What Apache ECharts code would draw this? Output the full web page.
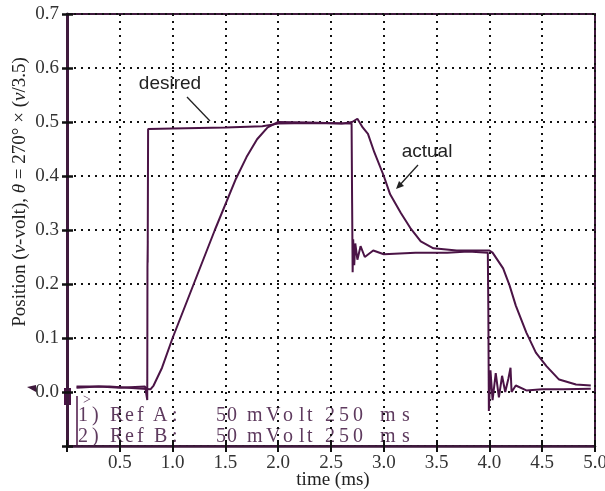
<!DOCTYPE html>
<html>
<head>
<meta charset="utf-8">
<script src="https://cdn.jsdelivr.net/npm/echarts@6/dist/echarts.min.js"></script>
<style>
  html, body { margin: 0; padding: 0; background: #fff; }
  #chart { width: 605px; height: 491px; }
</style>
</head>
<body>
<div id="chart"></div>
<script>
// time (ms) and position
const desiredTime = [0.09, 0.3, 0.5, 0.74, 0.755, 0.76, 0.762, 0.765, 0.764, 0.768, 1.0, 1.5, 1.85, 2.0, 2.3, 2.695,
  2.7, 2.705, 2.71, 2.72, 2.73, 2.75, 2.78, 2.82, 2.9, 3.0, 3.3, 3.6, 3.8, 3.985,
  3.99, 3.995, 4.01, 4.03, 4.06, 4.09, 4.12, 4.15, 4.18, 4.2, 4.21, 4.25, 4.35, 4.5, 4.7, 4.96];
const desiredPos = [0.008, 0.01, 0.008, 0.01, 0.01, -0.015, 0.23, 0.28, 0.24, 0.487, 0.488, 0.49, 0.492, 0.497, 0.498, 0.497,
  0.35, 0.222, 0.283, 0.235, 0.275, 0.245, 0.27, 0.25, 0.262, 0.255, 0.258, 0.258, 0.26, 0.258,
  0.15, -0.035, 0.04, -0.015, 0.035, -0.01, 0.03, 0.0, 0.025, 0.045, 0.0, 0.012, 0.003, 0.005, 0.005, 0.006];

const actualTime = [0.09, 0.4, 0.79, 0.82, 0.9, 1.0, 1.2, 1.4, 1.6, 1.7, 1.8, 1.9, 2.0, 2.3, 2.6, 2.7, 2.75, 2.8, 2.85,
  2.91, 3.0, 3.06, 3.16, 3.25, 3.35, 3.47, 3.69, 3.9, 4.0, 4.03, 4.13, 4.19, 4.25, 4.35, 4.44, 4.54, 4.66, 4.82, 4.96];
const actualPos = [0.01, 0.01, 0.005, 0.012, 0.045, 0.1, 0.2, 0.3, 0.395, 0.435, 0.468, 0.49, 0.5, 0.499, 0.497, 0.5, 0.506, 0.49, 0.478,
  0.444, 0.4, 0.366, 0.332, 0.304, 0.279, 0.266, 0.262, 0.262, 0.262, 0.258, 0.229, 0.198, 0.16, 0.11, 0.073, 0.048, 0.023, 0.014, 0.012];

// scope readout, one entry per glyph: [char, left x]
const refChars1 = [["1", 78], [")", 92], ["R", 110], ["e", 125], ["f", 137], ["A", 153], [":", 172],
  ["5", 216], ["0", 227], ["m", 247], ["V", 266], ["o", 283], ["l", 299], ["t", 307],
  ["2", 325], ["5", 339], ["0", 353], ["m", 380], ["s", 402]];
const refChars2 = [["2", 78], [")", 92], ["R", 110], ["e", 125], ["f", 137], ["B", 154], [":", 172],
  ["5", 216], ["0", 227], ["m", 247], ["V", 266], ["o", 283], ["l", 299], ["t", 307],
  ["2", 325], ["5", 339], ["0", 353], ["m", 380], ["s", 402]];

const zip = (xs, ys) => xs.map((x, i) => [x, ys[i]]);

const traceColor = "#4b1446";
const axisColor = "#3f1a3d";
const serif = "'Liberation Serif', 'Times New Roman', serif";
const sans = "'Liberation Sans', Arial, sans-serif";

const chart = echarts.init(document.getElementById("chart"));

const refTexts = [];
[[refChars1, 416], [refChars2, 437]].forEach(([chars, y]) => {
  chars.forEach(([c, x]) => refTexts.push({
    type: "text", x: x, y: y,
    style: { text: c, font: "20px " + serif, fill: "#5e3a5e", verticalAlign: "middle" },
  }));
});

chart.setOption({
  animation: false,
  backgroundColor: "#fff",
  grid: {
    left: 67, right: 10, top: 14, bottom: 45,
    outerBoundsMode: "none",
    show: true, borderColor: axisColor, borderWidth: 2, backgroundColor: "transparent",
  },
  xAxis: [
    {
      type: "value", min: 0, max: 5, interval: 0.5,
      axisLine: { onZero: false, lineStyle: { color: axisColor, width: 2.5 } },
      axisTick: { length: 6, lineStyle: { color: "#111", width: 2 } },
      axisLabel: {
        margin: 8, fontFamily: serif, fontSize: 19, color: "#333",
        formatter: (v) => (v === 0 ? "" : v.toFixed(1)),
      },
      splitLine: { lineStyle: { color: "#111", width: 2, type: [2, 5] } },
    },
    {
      type: "value", min: 0, max: 5, interval: 0.5, position: "bottom",
      axisLine: { show: false, onZero: false },
      axisTick: { inside: true, length: 6, lineStyle: { color: "#111", width: 2 } },
      axisLabel: { show: false }, splitLine: { show: false },
    },
  ],
  yAxis: [
    {
      type: "value", min: -0.1, max: 0.7, interval: 0.1,
      axisLine: { show: true, onZero: false, lineStyle: { color: axisColor, width: 3 } },
      axisTick: { show: true, length: 5, lineStyle: { color: "#111", width: 2.5 } },
      axisLabel: {
        margin: 8, fontFamily: serif, fontSize: 19, color: "#333",
        formatter: (v) => (v < -0.05 ? "" : v.toFixed(1)),
      },
      splitLine: { lineStyle: { color: "#111", width: 2, type: [2, 5] } },
    },
    {
      type: "value", min: -0.1, max: 0.7, interval: 0.1, position: "left",
      axisLine: { show: false, onZero: false },
      axisTick: { show: true, inside: true, length: 6, lineStyle: { color: "#111", width: 2.5 } },
      axisLabel: { show: false }, splitLine: { show: false },
    },
  ],
  series: [
    {
      name: "desired", type: "line", showSymbol: false,
      data: zip(desiredTime, desiredPos),
      lineStyle: { color: traceColor, width: 2 },
      z: 3,
    },
    {
      name: "actual", type: "line", showSymbol: false,
      data: zip(actualTime, actualPos),
      lineStyle: { color: traceColor, width: 2 },
      z: 3,
    },
  ],
  graphic: [
    {
      type: "text", x: 20, y: 192, rotation: Math.PI / 2,
      style: {
        text: "Position ({i|ν}-volt), {i|θ} = 270° × ({i|ν}/3.5)",
        font: "19px " + serif, fill: "#222", align: "center", verticalAlign: "middle",
        rich: { i: { fontFamily: serif, fontSize: 19, fontStyle: "italic", fill: "#222" } },
      },
    },
    { type: "text", x: 333, y: 480, style: { text: "time (ms)", font: "19px " + serif, fill: "#222", align: "center", verticalAlign: "middle" } },
    { type: "text", x: 170, y: 84, style: { text: "desired", font: "19px " + sans, fill: "#222", align: "center", verticalAlign: "middle" } },
    { type: "line", shape: { x1: 187, y1: 97, x2: 210, y2: 121 }, style: { stroke: "#222", lineWidth: 1.3 } },
    { type: "text", x: 427, y: 152, style: { text: "actual", font: "19px " + sans, fill: "#222", align: "center", verticalAlign: "middle" } },
    { type: "line", shape: { x1: 418, y1: 165, x2: 398, y2: 187 }, style: { stroke: "#222", lineWidth: 1.3 } },
    { type: "polygon", shape: { points: [[396, 189], [399, 181], [404, 186]] }, style: { fill: "#222" } },
    // scope channel marker at the left
    { type: "polygon", shape: { points: [[27, 387], [36, 385], [36, 392]] }, style: { fill: "#3f1a3d" } },
    { type: "rect", shape: { x: 64, y: 388, width: 7, height: 17 }, style: { fill: "#4b1446" } },
    { type: "line", shape: { x1: 77, y1: 396, x2: 77, y2: 446 }, style: { stroke: "#4b1446", lineWidth: 1.5 } },
    { type: "text", x: 83, y: 400, style: { text: ">", font: "14px " + serif, fill: "#5e3a5e", verticalAlign: "middle" } },
    ...refTexts,
  ],
});
</script>
</body>
</html>
